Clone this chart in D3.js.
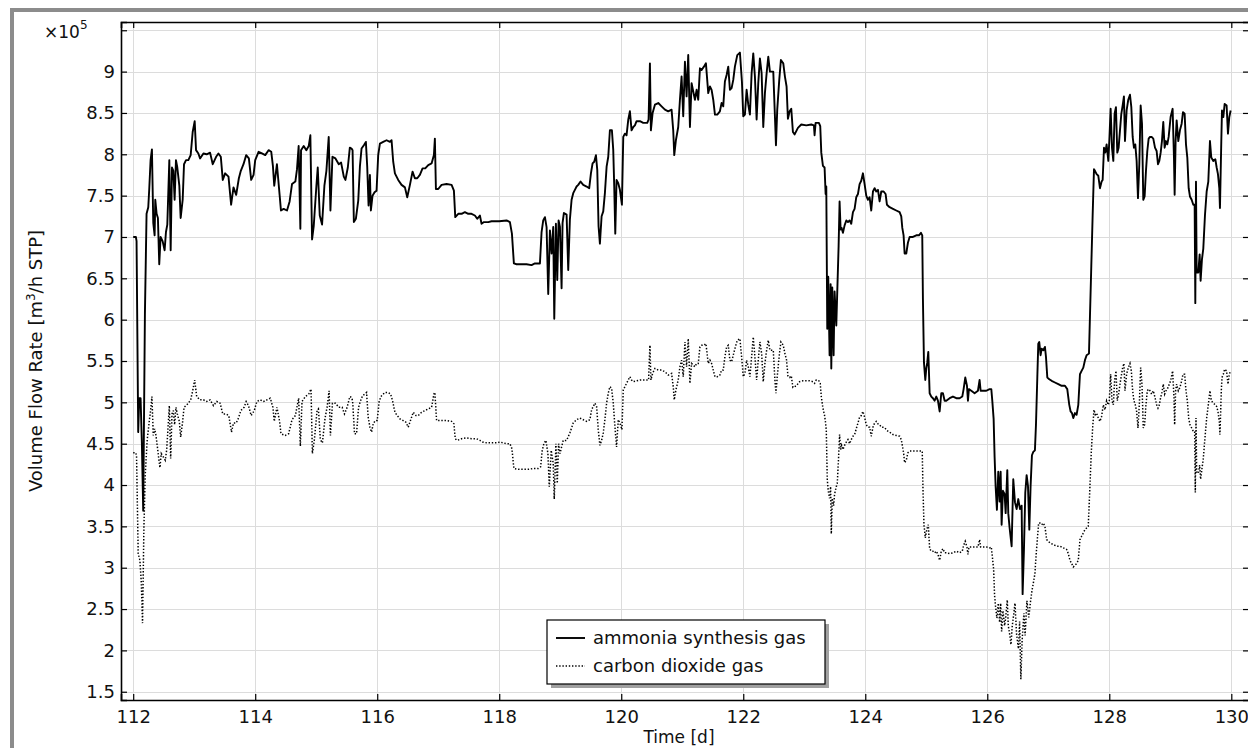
<!DOCTYPE html>
<html>
<head>
<meta charset="utf-8">
<script src="https://cdn.jsdelivr.net/npm/d3@7"></script>
<style>
  body { margin: 0; background: #fff; }
  svg { display: block; font-family: "DejaVu Sans", sans-serif; }
</style>
</head>
<body>
<svg id="chart" width="1248" height="748"></svg>
<script>
// values in units of 1e5 m3/h STP, time in days
const seriesNames = ["ammonia synthesis gas", "carbon dioxide gas"];
const xTicks = [112, 114, 116, 118, 120, 122, 124, 126, 128, 130];
const yTicks = [1.5, 2, 2.5, 3, 3.5, 4, 4.5, 5, 5.5, 6, 6.5, 7, 7.5, 8, 8.5, 9, 9.5];
const yTickLabels = ["1.5", "2", "2.5", "3", "3.5", "4", "4.5", "5", "5.5", "6", "6.5", "7", "7.5", "8", "8.5", "9", ""];

const ammonia = [
  [112.00,7.00],[112.044,7.00],[112.055,6.95],[112.082,4.64],[112.099,5.05],[112.121,5.05],[112.142,4.51],[112.164,3.69],
  [112.192,6.07],[112.219,7.28],[112.247,7.36],[112.263,7.58],[112.285,7.93],[112.307,8.06],[112.329,7.17],[112.351,7.02],
  [112.362,7.45],[112.384,7.28],[112.405,7.23],[112.427,6.67],[112.449,7.00],[112.482,6.95],[112.515,6.84],[112.537,7.06],
  [112.559,7.15],[112.592,7.93],[112.614,6.84],[112.636,7.84],[112.658,7.80],[112.679,7.45],[112.701,7.93],[112.723,7.84],
  [112.756,7.62],[112.778,7.23],[112.811,7.45],[112.833,7.88],[112.866,7.93],[112.904,7.93],[112.942,7.99],[112.975,8.27],
  [113.008,8.40],[113.030,8.05],[113.068,8.01],[113.096,7.95],[113.151,8.01],[113.205,8.00],[113.260,8.02],[113.304,7.88],
  [113.359,7.97],[113.397,8.01],[113.436,7.97],[113.468,7.69],[113.507,7.77],[113.562,7.73],[113.605,7.39],[113.644,7.60],
  [113.688,7.51],[113.732,7.71],[113.764,7.80],[113.808,7.88],[113.852,7.99],[113.896,7.95],[113.934,7.69],[113.973,7.75],
  [114.000,7.93],[114.055,8.03],[114.110,8.01],[114.164,7.99],[114.219,8.05],[114.263,8.03],[114.290,7.86],[114.312,7.62],
  [114.356,7.88],[114.400,7.51],[114.422,7.32],[114.466,7.34],[114.521,7.32],[114.564,7.43],[114.603,7.64],[114.658,7.67],
  [114.685,7.82],[114.712,8.10],[114.740,7.10],[114.751,8.05],[114.795,8.10],[114.838,8.05],[114.877,8.10],[114.904,8.23],
  [114.932,6.97],[114.959,7.13],[115.003,7.62],[115.025,7.84],[115.058,7.26],[115.096,7.15],[115.134,7.62],[115.167,7.80],
  [115.205,8.21],[115.233,7.32],[115.266,7.97],[115.315,7.95],[115.370,7.88],[115.408,7.90],[115.452,7.73],[115.479,7.69],
  [115.518,7.84],[115.551,8.08],[115.579,8.07],[115.596,8.05],[115.617,7.18],[115.650,7.22],[115.689,7.44],[115.716,7.85],
  [115.743,8.07],[115.781,8.11],[115.814,8.15],[115.836,7.85],[115.858,7.38],[115.880,7.75],[115.896,7.32],[115.923,7.50],
  [115.956,7.54],[115.989,7.56],[116.016,7.99],[116.044,8.13],[116.098,8.15],[116.153,8.17],[116.208,8.15],[116.235,8.17],
  [116.262,7.91],[116.290,7.77],[116.317,7.73],[116.344,7.69],[116.399,7.63],[116.454,7.60],[116.492,7.48],[116.536,7.63],
  [116.579,7.79],[116.617,7.71],[116.656,7.71],[116.699,7.75],[116.743,7.83],[116.787,7.83],[116.836,7.87],[116.891,7.89],
  [116.929,7.99],[116.945,8.19],[116.962,7.58],[117.000,7.58],[117.055,7.63],[117.137,7.64],[117.219,7.63],[117.257,7.56],
  [117.279,7.24],[117.328,7.28],[117.383,7.28],[117.437,7.30],[117.492,7.28],[117.546,7.28],[117.601,7.26],[117.639,7.22],
  [117.683,7.26],[117.710,7.16],[117.749,7.18],[117.820,7.18],[117.874,7.19],[117.929,7.19],[118.000,7.19],[118.120,7.20],
  [118.175,7.18],[118.208,7.04],[118.240,6.68],[118.284,6.67],[118.366,6.67],[118.448,6.67],[118.530,6.66],[118.585,6.68],
  [118.639,6.68],[118.667,6.68],[118.694,7.06],[118.721,7.20],[118.749,7.24],[118.776,7.12],[118.803,6.31],[118.831,7.08],
  [118.858,6.80],[118.885,7.12],[118.902,6.01],[118.929,7.16],[118.951,6.48],[118.973,7.20],[118.995,7.12],[119.022,6.38],
  [119.038,7.17],[119.060,7.29],[119.104,7.27],[119.131,6.60],[119.158,7.21],[119.186,7.45],[119.213,7.53],[119.240,7.57],
  [119.268,7.61],[119.295,7.63],[119.333,7.67],[119.377,7.63],[119.432,7.61],[119.475,7.59],[119.503,7.77],[119.530,7.89],
  [119.557,7.91],[119.585,7.99],[119.607,7.81],[119.628,7.13],[119.650,6.92],[119.678,7.25],[119.705,7.31],[119.732,7.53],
  [119.760,7.85],[119.787,7.97],[119.814,8.29],[119.847,8.29],[119.869,8.05],[119.885,7.61],[119.902,7.04],[119.923,7.69],
  [119.951,7.65],[119.978,7.57],[120.011,7.39],[120.033,8.21],[120.060,8.25],[120.087,8.23],[120.115,8.42],[120.142,8.52],
  [120.169,8.29],[120.197,8.33],[120.224,8.35],[120.251,8.40],[120.306,8.40],[120.361,8.38],[120.426,8.38],[120.448,8.42],
  [120.470,9.10],[120.486,8.29],[120.514,8.50],[120.552,8.60],[120.607,8.62],[120.661,8.58],[120.716,8.54],[120.770,8.52],
  [120.825,8.54],[120.852,8.29],[120.869,7.99],[120.896,8.17],[120.934,8.33],[120.962,8.66],[120.989,8.94],[121.016,8.46],
  [121.044,9.12],[121.071,8.70],[121.098,9.20],[121.126,8.33],[121.153,8.86],[121.180,8.76],[121.208,8.66],[121.235,8.78],
  [121.262,8.66],[121.290,9.04],[121.317,9.02],[121.355,9.06],[121.388,9.10],[121.426,8.74],[121.454,8.82],[121.481,8.78],
  [121.508,8.66],[121.536,8.48],[121.574,8.48],[121.617,8.52],[121.645,8.62],[121.672,8.58],[121.699,8.88],[121.727,8.96],
  [121.754,9.06],[121.781,8.78],[121.809,8.80],[121.836,8.90],[121.863,9.06],[121.902,9.20],[121.945,9.23],[121.978,8.88],
  [122.000,8.46],[122.027,8.48],[122.055,8.78],[122.082,8.60],[122.109,8.48],[122.137,8.98],[122.164,9.22],[122.191,8.94],
  [122.219,8.42],[122.246,8.86],[122.273,9.16],[122.301,8.98],[122.328,8.33],[122.355,8.74],[122.383,8.98],[122.410,9.18],
  [122.437,9.00],[122.492,9.00],[122.519,8.46],[122.536,8.11],[122.557,8.54],[122.590,8.90],[122.617,9.14],[122.656,9.10],
  [122.683,8.94],[122.710,8.82],[122.732,8.43],[122.760,8.52],[122.787,8.55],[122.814,8.27],[122.842,8.24],[122.896,8.32],
  [122.951,8.36],[123.033,8.35],[123.115,8.36],[123.158,8.35],[123.169,8.23],[123.186,8.38],[123.240,8.38],[123.262,8.34],
  [123.279,8.02],[123.306,7.86],[123.333,7.84],[123.350,7.52],[123.361,7.61],[123.377,5.89],[123.393,6.52],[123.415,5.57],
  [123.432,6.43],[123.443,5.41],[123.459,6.39],[123.481,5.57],[123.497,6.34],[123.525,5.93],[123.541,6.34],[123.563,6.89],
  [123.579,7.43],[123.596,7.09],[123.612,7.11],[123.634,7.05],[123.661,7.14],[123.689,7.20],[123.716,7.18],[123.743,7.20],
  [123.770,7.16],[123.798,7.30],[123.825,7.34],[123.852,7.48],[123.880,7.52],[123.907,7.64],[123.934,7.68],[123.962,7.77],
  [123.989,7.64],[124.016,7.50],[124.044,7.45],[124.071,7.48],[124.098,7.32],[124.126,7.55],[124.153,7.59],[124.180,7.55],
  [124.208,7.57],[124.235,7.43],[124.262,7.55],[124.301,7.55],[124.333,7.52],[124.355,7.39],[124.399,7.36],[124.454,7.34],
  [124.508,7.32],[124.563,7.30],[124.590,7.25],[124.607,7.11],[124.628,7.02],[124.645,6.80],[124.672,6.80],[124.699,6.93],
  [124.727,7.00],[124.781,7.00],[124.836,7.02],[124.880,7.02],[124.913,7.05],[124.934,7.02],[124.945,6.25],[124.962,5.48],
  [124.984,5.27],[125.000,5.41],[125.016,5.48],[125.033,5.61],[125.055,5.11],[125.082,5.07],[125.109,5.05],[125.137,5.02],
  [125.164,5.07],[125.191,5.02],[125.219,4.89],[125.246,5.11],[125.273,5.11],[125.301,5.02],[125.328,5.02],[125.383,5.05],
  [125.437,5.07],[125.492,5.05],[125.546,5.05],[125.590,5.07],[125.612,5.16],[125.639,5.30],[125.667,5.20],[125.683,5.02],
  [125.699,5.16],[125.738,5.14],[125.792,5.11],[125.847,5.14],[125.874,5.27],[125.891,5.14],[125.929,5.14],[125.984,5.14],
  [126.038,5.16],[126.066,5.16],[126.082,5.02],[126.104,4.80],[126.120,4.34],[126.137,3.98],[126.158,3.70],[126.180,4.16],
  [126.202,3.80],[126.219,4.16],[126.235,3.52],[126.257,3.93],[126.284,3.89],[126.301,3.66],[126.328,4.18],[126.344,3.66],
  [126.366,3.48],[126.399,3.26],[126.426,4.07],[126.454,3.79],[126.481,3.71],[126.508,3.83],[126.536,3.71],[126.563,3.75],
  [126.579,2.68],[126.601,3.22],[126.623,3.91],[126.645,4.12],[126.667,3.99],[126.689,3.46],[126.710,3.99],[126.732,4.36],
  [126.754,4.40],[126.781,4.42],[126.798,4.73],[126.820,5.30],[126.836,5.71],[126.852,5.73],[126.874,5.57],[126.891,5.65],
  [126.918,5.63],[126.945,5.67],[126.962,5.55],[126.984,5.30],[127.016,5.28],[127.055,5.26],[127.109,5.24],[127.164,5.22],
  [127.219,5.20],[127.273,5.20],[127.311,5.16],[127.344,4.97],[127.366,4.89],[127.388,4.87],[127.410,4.81],[127.437,4.87],
  [127.464,4.85],[127.492,4.97],[127.519,5.34],[127.546,5.38],[127.574,5.42],[127.601,5.51],[127.628,5.57],[127.667,5.59],
  [127.683,6.04],[127.705,6.65],[127.727,7.26],[127.749,7.82],[127.765,7.80],[127.792,7.76],[127.820,7.74],[127.847,7.59],
  [127.874,7.67],[127.891,7.69],[127.913,8.08],[127.934,8.02],[127.956,8.12],[127.984,7.92],[128.000,8.16],[128.022,8.55],
  [128.044,8.08],[128.066,7.92],[128.087,8.49],[128.109,8.57],[128.131,8.02],[128.153,8.08],[128.175,8.29],[128.197,8.49],
  [128.219,8.59],[128.240,8.70],[128.257,8.16],[128.284,8.53],[128.311,8.66],[128.339,8.72],[128.361,8.57],[128.383,8.21],
  [128.404,8.08],[128.426,8.12],[128.448,7.92],[128.470,7.47],[128.492,7.88],[128.514,8.59],[128.536,8.37],[128.557,7.45],
  [128.579,7.49],[128.601,7.80],[128.623,8.04],[128.645,8.19],[128.667,8.21],[128.694,8.21],[128.721,8.19],[128.749,8.08],
  [128.776,8.04],[128.798,7.88],[128.820,7.92],[128.842,8.02],[128.863,8.16],[128.885,8.39],[128.907,8.08],[128.929,8.16],
  [128.951,8.12],[128.973,8.21],[129.005,8.45],[129.038,8.55],[129.060,7.96],[129.071,7.51],[129.087,8.16],[129.104,8.41],
  [129.131,8.16],[129.158,8.29],[129.186,8.37],[129.208,8.51],[129.235,8.49],[129.257,8.12],[129.279,7.96],[129.301,7.59],
  [129.322,7.49],[129.350,7.45],[129.377,7.39],[129.399,7.39],[129.410,6.20],[129.421,7.67],[129.432,6.57],[129.459,6.57],
  [129.481,6.79],[129.497,6.47],[129.519,6.73],[129.541,6.86],[129.568,7.26],[129.596,7.55],[129.623,7.67],[129.650,8.16],
  [129.672,7.96],[129.705,7.92],[129.738,7.94],[129.760,7.84],[129.781,7.76],[129.803,7.59],[129.814,7.35],[129.836,8.16],
  [129.847,8.53],[129.869,8.45],[129.891,8.61],[129.923,8.59],[129.945,8.25],[129.967,8.45],[129.989,8.53]
];

const carbonDioxide = [
  [112.00,4.39],[112.044,4.39],[112.055,4.34],[112.082,3.17],[112.110,3.09],[112.132,2.83],[112.153,2.33],[112.175,3.47],
  [112.197,4.12],[112.230,4.55],[112.263,4.77],[112.285,4.90],[112.307,5.07],[112.329,4.60],[112.351,4.68],[112.373,4.60],
  [112.395,4.47],[112.416,4.34],[112.438,4.21],[112.460,4.38],[112.493,4.34],[112.526,4.30],[112.548,4.42],[112.570,4.68],
  [112.592,4.96],[112.614,4.32],[112.636,4.86],[112.658,4.90],[112.679,4.73],[112.701,4.94],[112.723,4.86],[112.756,4.77],
  [112.778,4.58],[112.811,4.77],[112.833,4.94],[112.866,4.96],[112.904,4.99],[112.942,5.03],[112.975,5.14],[113.008,5.27],
  [113.041,5.07],[113.096,5.03],[113.151,5.03],[113.205,5.01],[113.260,5.03],[113.315,4.96],[113.370,5.01],[113.425,4.99],
  [113.468,4.86],[113.523,4.86],[113.567,4.84],[113.611,4.64],[113.644,4.75],[113.688,4.75],[113.726,4.81],[113.764,4.90],
  [113.819,4.94],[113.852,5.01],[113.890,4.96],[113.934,4.84],[113.984,4.90],[114.027,5.01],[114.082,5.03],[114.137,5.01],
  [114.192,5.03],[114.247,5.05],[114.290,4.94],[114.312,4.77],[114.356,4.94],[114.400,4.77],[114.422,4.62],[114.493,4.60],
  [114.548,4.62],[114.603,4.79],[114.658,4.84],[114.712,5.05],[114.740,4.47],[114.767,5.01],[114.822,5.07],[114.877,5.10],
  [114.915,5.16],[114.937,4.38],[114.970,4.55],[115.014,4.90],[115.036,4.92],[115.068,4.55],[115.101,4.51],[115.145,4.81],
  [115.178,4.94],[115.211,5.14],[115.233,4.60],[115.266,4.99],[115.315,4.99],[115.370,4.94],[115.425,4.94],[115.463,4.86],
  [115.507,4.94],[115.551,5.07],[115.579,5.06],[115.596,5.02],[115.628,4.62],[115.661,4.62],[115.694,4.94],[115.727,5.02],
  [115.760,5.08],[115.798,5.10],[115.825,5.12],[115.852,4.82],[115.880,4.70],[115.907,4.64],[115.934,4.74],[115.967,4.78],
  [116.000,4.78],[116.033,5.02],[116.071,5.08],[116.126,5.12],[116.180,5.12],[116.219,5.10],[116.251,5.02],[116.290,4.88],
  [116.328,4.84],[116.372,4.80],[116.426,4.78],[116.470,4.76],[116.508,4.70],[116.536,4.76],[116.590,4.88],[116.634,4.84],
  [116.672,4.84],[116.727,4.88],[116.781,4.90],[116.836,4.92],[116.891,4.94],[116.929,5.10],[116.945,5.12],[116.973,4.78],
  [117.027,4.78],[117.082,4.78],[117.137,4.78],[117.219,4.77],[117.257,4.74],[117.279,4.56],[117.311,4.54],[117.383,4.56],
  [117.464,4.57],[117.546,4.56],[117.628,4.56],[117.683,4.54],[117.727,4.52],[117.792,4.51],[117.874,4.51],[117.956,4.51],
  [118.011,4.52],[118.120,4.50],[118.175,4.50],[118.208,4.44],[118.240,4.20],[118.311,4.19],[118.393,4.19],[118.475,4.19],
  [118.557,4.20],[118.639,4.20],[118.678,4.22],[118.705,4.42],[118.732,4.50],[118.765,4.54],[118.798,4.38],[118.820,3.98],
  [118.852,4.42],[118.885,4.26],[118.902,3.83],[118.929,4.50],[118.951,4.02],[118.973,4.50],[118.995,4.38],[119.049,4.54],
  [119.104,4.54],[119.158,4.63],[119.213,4.75],[119.268,4.79],[119.322,4.81],[119.377,4.79],[119.432,4.77],[119.486,4.79],
  [119.514,4.91],[119.541,4.95],[119.568,4.99],[119.596,4.95],[119.623,4.67],[119.650,4.48],[119.678,4.54],[119.705,4.63],
  [119.732,4.79],[119.760,4.99],[119.787,5.11],[119.814,5.19],[119.842,5.17],[119.869,4.99],[119.896,4.71],[119.923,4.46],
  [119.951,4.79],[119.978,4.75],[120.011,4.67],[120.033,5.15],[120.060,5.19],[120.087,5.23],[120.142,5.31],[120.169,5.27],
  [120.197,5.25],[120.251,5.26],[120.306,5.27],[120.361,5.27],[120.426,5.27],[120.448,5.27],[120.470,5.69],[120.486,5.27],
  [120.514,5.35],[120.552,5.41],[120.607,5.39],[120.661,5.39],[120.716,5.37],[120.770,5.33],[120.825,5.35],[120.852,5.19],
  [120.869,5.03],[120.896,5.15],[120.934,5.27],[120.962,5.43],[120.989,5.51],[121.016,5.31],[121.044,5.73],[121.071,5.43],
  [121.098,5.77],[121.126,5.23],[121.153,5.47],[121.180,5.45],[121.208,5.43],[121.235,5.47],[121.262,5.47],[121.290,5.67],
  [121.317,5.69],[121.355,5.69],[121.388,5.71],[121.426,5.47],[121.454,5.51],[121.481,5.47],[121.508,5.39],[121.536,5.31],
  [121.574,5.31],[121.617,5.33],[121.645,5.39],[121.672,5.39],[121.699,5.55],[121.727,5.67],[121.754,5.69],[121.781,5.51],
  [121.809,5.49],[121.836,5.57],[121.863,5.65],[121.902,5.75],[121.945,5.77],[121.978,5.51],[122.000,5.31],[122.027,5.35],
  [122.055,5.51],[122.082,5.43],[122.109,5.31],[122.137,5.55],[122.164,5.79],[122.191,5.55],[122.219,5.27],[122.246,5.51],
  [122.273,5.73],[122.301,5.59],[122.328,5.25],[122.355,5.47],[122.383,5.63],[122.410,5.75],[122.437,5.63],[122.492,5.63],
  [122.519,5.27],[122.536,5.11],[122.557,5.31],[122.590,5.57],[122.617,5.73],[122.656,5.69],[122.683,5.59],[122.710,5.51],
  [122.732,5.32],[122.760,5.30],[122.787,5.32],[122.814,5.18],[122.869,5.20],[122.924,5.25],[122.978,5.26],[123.033,5.26],
  [123.087,5.26],[123.142,5.25],[123.169,5.23],[123.197,5.27],[123.240,5.26],[123.262,5.23],[123.279,5.07],[123.306,4.93],
  [123.333,4.84],[123.350,4.75],[123.361,4.66],[123.377,4.07],[123.393,3.93],[123.415,3.84],[123.432,3.98],[123.443,3.41],
  [123.459,3.84],[123.481,3.75],[123.497,3.89],[123.525,3.98],[123.541,4.02],[123.563,4.34],[123.579,4.61],[123.596,4.43],
  [123.612,4.48],[123.634,4.43],[123.661,4.48],[123.689,4.52],[123.716,4.55],[123.743,4.50],[123.770,4.55],[123.798,4.59],
  [123.825,4.61],[123.852,4.68],[123.880,4.75],[123.907,4.82],[123.934,4.84],[123.962,4.89],[123.989,4.82],[124.016,4.73],
  [124.044,4.70],[124.071,4.70],[124.098,4.59],[124.126,4.70],[124.153,4.75],[124.180,4.77],[124.208,4.74],[124.235,4.73],
  [124.262,4.70],[124.301,4.70],[124.333,4.68],[124.355,4.66],[124.399,4.64],[124.454,4.61],[124.508,4.60],[124.563,4.59],
  [124.590,4.55],[124.607,4.48],[124.628,4.39],[124.645,4.27],[124.672,4.30],[124.699,4.39],[124.727,4.41],[124.781,4.41],
  [124.836,4.41],[124.880,4.41],[124.934,4.41],[124.945,3.98],[124.962,3.52],[124.984,3.36],[125.000,3.43],[125.016,3.48],
  [125.033,3.52],[125.055,3.23],[125.082,3.20],[125.109,3.20],[125.137,3.18],[125.164,3.20],[125.191,3.16],[125.219,3.09],
  [125.246,3.20],[125.273,3.23],[125.301,3.18],[125.328,3.18],[125.383,3.17],[125.437,3.18],[125.492,3.20],[125.546,3.18],
  [125.590,3.20],[125.612,3.27],[125.639,3.32],[125.667,3.25],[125.683,3.16],[125.699,3.25],[125.738,3.25],[125.792,3.25],
  [125.847,3.25],[125.874,3.34],[125.891,3.25],[125.929,3.25],[125.984,3.25],[126.038,3.24],[126.066,3.25],[126.082,3.14],
  [126.104,2.98],[126.120,2.66],[126.137,2.52],[126.158,2.39],[126.180,2.57],[126.202,2.34],[126.219,2.57],[126.235,2.23],
  [126.257,2.48],[126.284,2.30],[126.301,2.39],[126.328,2.61],[126.344,2.30],[126.366,2.20],[126.388,2.07],[126.410,2.30],
  [126.432,2.43],[126.454,2.57],[126.480,2.20],[126.510,2.02],[126.530,2.35],[126.550,1.65],[126.570,2.10],[126.600,2.45],
  [126.620,2.18],[126.650,2.60],[126.680,2.40],[126.710,2.60],[126.732,2.72],[126.754,2.81],[126.781,2.93],[126.798,3.13],
  [126.820,3.34],[126.842,3.54],[126.863,3.54],[126.891,3.52],[126.918,3.54],[126.945,3.50],[126.973,3.34],[127.000,3.32],
  [127.027,3.30],[127.082,3.28],[127.137,3.26],[127.191,3.26],[127.246,3.24],[127.301,3.22],[127.328,3.17],[127.355,3.09],
  [127.383,3.05],[127.410,3.01],[127.437,3.03],[127.464,3.05],[127.492,3.09],[127.519,3.34],[127.546,3.38],[127.574,3.42],
  [127.601,3.46],[127.628,3.48],[127.655,3.50],[127.683,3.99],[127.705,4.40],[127.727,4.69],[127.749,4.91],[127.770,4.85],
  [127.792,4.87],[127.820,4.81],[127.847,4.77],[127.874,4.83],[127.902,4.97],[127.929,4.91],[127.956,5.02],[127.984,4.97],
  [128.000,5.02],[128.022,5.34],[128.044,5.02],[128.066,4.97],[128.087,5.26],[128.109,5.38],[128.131,5.02],[128.153,5.10],
  [128.175,5.22],[128.197,5.32],[128.219,5.42],[128.240,5.47],[128.257,5.14],[128.284,5.34],[128.311,5.42],[128.339,5.47],
  [128.361,5.38],[128.383,5.14],[128.404,5.02],[128.426,4.97],[128.448,4.89],[128.470,4.69],[128.492,4.97],[128.514,5.42],
  [128.536,5.22],[128.557,4.69],[128.579,4.73],[128.601,4.97],[128.623,5.14],[128.645,5.16],[128.667,5.14],[128.694,5.10],
  [128.721,5.14],[128.749,5.06],[128.776,4.97],[128.798,4.93],[128.820,4.97],[128.842,5.06],[128.863,5.12],[128.885,5.22],
  [128.907,5.10],[128.929,5.14],[128.951,5.16],[128.973,5.20],[129.005,5.26],[129.038,5.38],[129.060,5.06],[129.071,4.73],
  [129.087,5.14],[129.104,5.22],[129.131,5.14],[129.158,5.18],[129.186,5.26],[129.208,5.34],[129.235,5.34],[129.257,5.14],
  [129.279,5.02],[129.301,4.81],[129.322,4.73],[129.350,4.69],[129.377,4.65],[129.399,4.65],[129.410,3.91],[129.421,4.81],
  [129.432,4.16],[129.459,4.14],[129.481,4.24],[129.497,4.07],[129.519,4.20],[129.541,4.32],[129.568,4.57],[129.596,4.81],
  [129.623,4.97],[129.650,5.14],[129.672,5.02],[129.705,4.99],[129.738,4.97],[129.760,4.95],[129.781,4.89],[129.803,4.77],
  [129.814,4.61],[129.836,5.14],[129.847,5.30],[129.869,5.34],[129.891,5.40],[129.923,5.38],[129.945,5.22],[129.967,5.34],
  [129.989,5.38]
];

const svg = d3.select("#chart");

// outer frame (gray) of the figure
svg.append("rect").attr("x", 12).attr("y", 10).attr("width", 1260).attr("height", 760)
  .attr("fill", "none").attr("stroke", "#8c8c8c").attr("stroke-width", 4);

const plot = { left: 121, top: 22, right: 1249, bottom: 700 };

const x = d3.scaleLinear().domain([111.8, 130.29]).range([plot.left, plot.right]);
const y = d3.scaleLinear().domain([1.4, 9.6]).range([plot.bottom, plot.top]);

svg.append("clipPath").attr("id", "clip")
  .append("rect")
  .attr("x", plot.left).attr("y", plot.top)
  .attr("width", plot.right - plot.left).attr("height", plot.bottom - plot.top);

// grid
const grid = svg.append("g").attr("stroke", "#dcdcdc").attr("stroke-width", 1);
grid.selectAll(".gx").data(xTicks).enter().append("line")
  .attr("x1", d => Math.round(x(d)) + 0.5).attr("x2", d => Math.round(x(d)) + 0.5)
  .attr("y1", plot.top).attr("y2", plot.bottom);
grid.selectAll(".gy").data(yTicks).enter().append("line")
  .attr("y1", d => Math.round(y(d)) + 0.5).attr("y2", d => Math.round(y(d)) + 0.5)
  .attr("x1", plot.left).attr("x2", plot.right);

// axes with inward ticks
const fontSize = 18;
const xAxis = d3.axisBottom(x).tickValues(xTicks).tickSize(-6).tickPadding(10).tickFormat(d3.format("d"));
const yAxis = d3.axisLeft(y).tickValues(yTicks).tickSize(-6).tickPadding(6)
  .tickFormat((d, i) => yTickLabels[i]);

const gx = svg.append("g").attr("transform", `translate(0,${plot.bottom})`).call(xAxis);
const gy = svg.append("g").attr("transform", `translate(${plot.left},0)`).call(yAxis);
const gxTop = svg.append("g").attr("transform", `translate(0,${plot.top})`)
  .call(d3.axisTop(x).tickValues(xTicks).tickSize(-6).tickFormat(""));
const gyRight = svg.append("g").attr("transform", `translate(${plot.right},0)`)
  .call(d3.axisRight(y).tickValues(yTicks).tickSize(-6).tickFormat(""));

[gx, gy, gxTop, gyRight].forEach(g => {
  g.select(".domain").attr("stroke", "#000").attr("stroke-width", 1.6);
  g.selectAll(".tick line").attr("stroke", "#000").attr("stroke-width", 1.2);
  g.selectAll(".tick text").attr("fill", "#111").style("font-size", fontSize + "px")
    .style("font-family", "DejaVu Sans");
});

// multiplier
const mult = svg.append("text").attr("x", 44).attr("y", 38)
  .style("font-size", "17px").attr("fill", "#111");
mult.append("tspan").text("\u00d710");
mult.append("tspan").attr("dy", -9).style("font-size", "12px").text("5");

// axis titles
svg.append("text").attr("x", 679).attr("y", 743).attr("text-anchor", "middle")
  .style("font-size", "17px").attr("fill", "#111").text("Time [d]");

const yt = svg.append("text").attr("transform", `translate(42,${(plot.top + plot.bottom) / 2}) rotate(-90)`)
  .attr("text-anchor", "middle").style("font-size", "18px").attr("fill", "#111");
yt.append("tspan").text("Volume Flow Rate [m");
yt.append("tspan").attr("dy", -7).style("font-size", "12px").text("3");
yt.append("tspan").attr("dy", 7).text("/h STP]");

// series
const line = d3.line().x(d => x(d[0])).y(d => y(d[1]));
const lines = svg.append("g").attr("clip-path", "url(#clip)");
lines.append("path").datum(carbonDioxide)
  .attr("d", line).attr("fill", "none").attr("stroke", "#000")
  .attr("stroke-width", 1.5).attr("stroke-dasharray", "1.4,1.8");
lines.append("path").datum(ammonia)
  .attr("d", line).attr("fill", "none").attr("stroke", "#000")
  .attr("stroke-width", 1.9).attr("stroke-linejoin", "round");

// legend
const lg = svg.append("g").attr("transform", "translate(547,620)");
lg.append("rect").attr("x", 4).attr("y", 4).attr("width", 278).attr("height", 64).attr("fill", "#a0a0a0");
lg.append("rect").attr("x", 0).attr("y", 0).attr("width", 278).attr("height", 64)
  .attr("fill", "#fff").attr("stroke", "#000").attr("stroke-width", 1.2);
seriesNames.forEach((name, i) => {
  const cy = 18 + i * 28;
  lg.append("line").attr("x1", 9).attr("x2", 38).attr("y1", cy).attr("y2", cy)
    .attr("stroke", "#000").attr("stroke-width", i === 0 ? 1.9 : 1.5)
    .attr("stroke-dasharray", i === 0 ? null : "1.4,1.8");
  lg.append("text").attr("x", 46).attr("y", cy + 6).style("font-size", fontSize + "px")
    .attr("fill", "#111").text(name);
});
</script>
</body>
</html>
